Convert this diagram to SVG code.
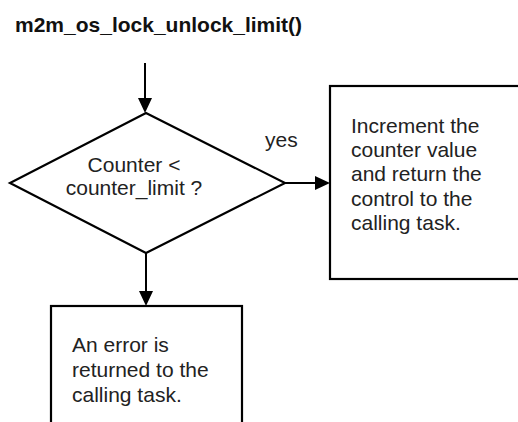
<svg xmlns="http://www.w3.org/2000/svg" width="518" height="422" viewBox="0 0 518 422">
  <style>
    .shape { fill: #ffffff; stroke: #000000; stroke-width: 2.2; }
    .edge { fill: none; stroke: #000000; stroke-width: 2; }
    .label { font-family: "Liberation Sans", Arial, sans-serif; font-size: 21px; fill: #222222; }
    .title { font-family: "Liberation Sans", Arial, sans-serif; font-size: 21px; font-weight: bold; fill: #111111; }
  </style>
  <defs>
    <marker id="arrow" viewBox="0 0 15 14" refX="10" refY="7" markerWidth="15" markerHeight="14" markerUnits="userSpaceOnUse" orient="auto">
      <path d="M0,0 L15,7 L0,14 Z" fill="#000000"/>
    </marker>
  </defs>
  <rect width="518" height="422" fill="#ffffff"/>

  <text class="title" x="15" y="32">m2m_os_lock_unlock_limit()</text>

  <g id="connectors">
    <path class="edge" d="M145,63 L145,108" marker-end="url(#arrow)"/>
    <path class="edge" d="M285,183 L325,183" marker-end="url(#arrow)"/>
    <path class="edge" d="M146,253 L146,301" marker-end="url(#arrow)"/>
    <text class="label" x="265" y="147">yes</text>
  </g>

  <g id="decision">
    <polygon class="shape" points="146,113 285,183 146,253 10,183"/>
    <text class="label" text-anchor="middle" x="134" y="172">Counter &lt;</text>
    <text class="label" text-anchor="middle" x="134" y="195">counter_limit ?</text>
  </g>

  <g id="increment">
    <rect class="shape" x="330" y="86" width="210" height="193"/>
    <text class="label" x="351" y="133">Increment the</text>
    <text class="label" x="351" y="157">counter value</text>
    <text class="label" x="351" y="181">and return the</text>
    <text class="label" x="351" y="206">control to the</text>
    <text class="label" x="351" y="230">calling task.</text>
  </g>

  <g id="error">
    <rect class="shape" x="51" y="306" width="191" height="140"/>
    <text class="label" x="72" y="352">An error is</text>
    <text class="label" x="72" y="377">returned to the</text>
    <text class="label" x="72" y="402">calling task.</text>
  </g>
</svg>
